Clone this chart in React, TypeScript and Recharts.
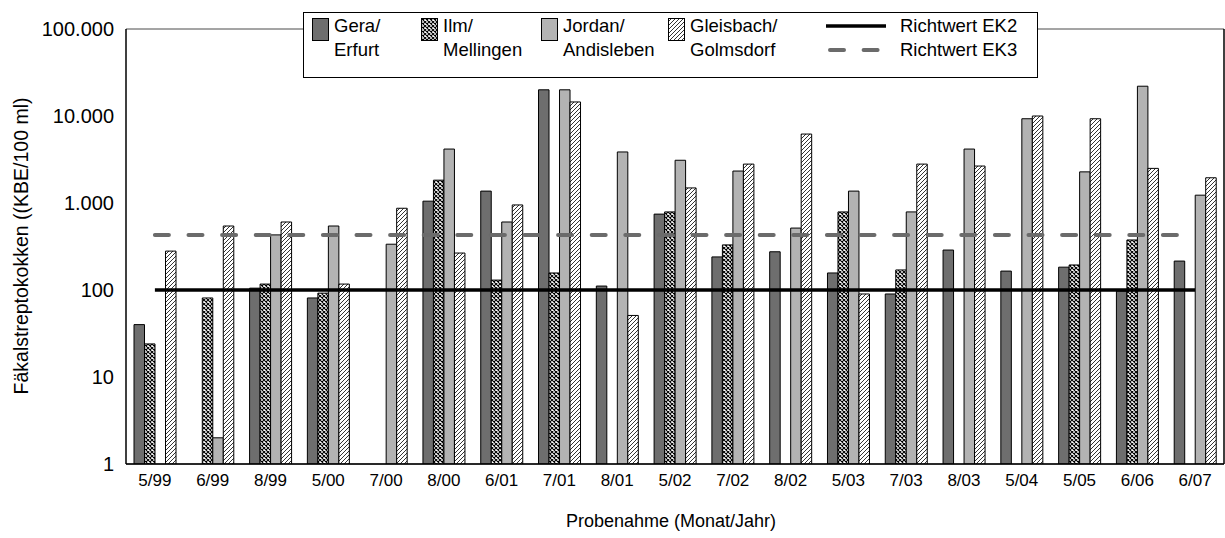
import React from "react";
import { Bar, BarChart, CartesianGrid, Label, Line, XAxis, YAxis } from "recharts";

const categories = ["5/99", "6/99", "8/99", "5/00", "7/00", "8/00", "6/01", "7/01", "8/01", "5/02", "7/02", "8/02", "5/03", "7/03", "8/03", "5/04", "5/05", "6/06", "6/07"];
const gera = [40, null, 105, 81, null, 1050, 1370, 20000, 111, 745, 240, 275, 157, 90, 288, 165, 183, 97, 215];
const ilm = [24, 81, 117, 92, null, 1830, 130, 157, null, 790, 330, null, 790, 170, null, null, 194, 376, null];
const jordan = [null, 2, 430, 544, 336, 4170, 605, 20000, 3860, 3100, 2330, 515, 1370, 790, 4170, 9300, 2280, 22000, 1230];
const gleisbach = [280, 544, 605, 117, 870, 266, 950, 14500, 51, 1490, 2800, 6200, 90, 2800, 2660, 10000, 9300, 2500, 1950];
const richtwertEK2 = 100;
const richtwertEK3 = 430;
const yTicks = [1, 10, 100, 1000, 10000, 100000];

const data = categories.map((c, i) => ({
  name: c,
  gera: gera[i],
  ilm: ilm[i],
  jordan: jordan[i],
  gleisbach: gleisbach[i],
  ek2: richtwertEK2,
  ek3: richtwertEK3,
}));

const FONT = '"Liberation Sans", Arial, sans-serif';
const DARK = "#6e6e6e";
const LIGHT = "#b3b3b3";

// german thousands separator
function fmt(v: number) {
  return String(v).replace(/\B(?=(\d{3})+(?!\d))/g, ".");
}

function Patterns() {
  return (
    <svg width={0} height={0} style={{ position: "absolute" }}>
      <defs>
        <pattern id="pCross" width={4} height={4} patternUnits="userSpaceOnUse">
          <rect width={4} height={4} fill="#fff" />
          <path d="M0,0 L4,4 M4,0 L0,4" stroke="#000" strokeWidth={1.1} />
        </pattern>
        <pattern id="pHatch" width={4} height={4} patternUnits="userSpaceOnUse">
          <rect width={4} height={4} fill="#fff" />
          <path d="M-1,1 l2,-2 M0,4 l4,-4 M3,5 l2,-2" stroke="#000" strokeWidth={0.8} />
        </pattern>
      </defs>
    </svg>
  );
}

const legendText: React.CSSProperties = { position: "absolute", fontSize: 18.5, lineHeight: "24px", whiteSpace: "nowrap" };

function LegendBox() {
  const items = [
    { fill: DARK, l1: "Gera/", l2: "Erfurt", x: 8 },
    { fill: "url(#pCross)", l1: "Ilm/", l2: "Mellingen", x: 117 },
    { fill: LIGHT, l1: "Jordan/", l2: "Andisleben", x: 237 },
    { fill: "url(#pHatch)", l1: "Gleisbach/", l2: "Golmsdorf", x: 364 },
  ];
  return (
    <div
      style={{
        position: "absolute",
        left: 303,
        top: 12,
        width: 733,
        height: 64,
        border: "1px solid #000",
        background: "#fff",
        fontFamily: FONT,
      }}
    >
      {items.map((it) => (
        <React.Fragment key={it.l1}>
          <svg width={18} height={24} style={{ position: "absolute", left: it.x, top: 5 }}>
            <rect x={0.5} y={0.5} width={16} height={22} fill={it.fill} stroke="#000" strokeWidth={1} />
          </svg>
          <div style={{ ...legendText, left: it.x + 22, top: 1 }}>{it.l1}</div>
          <div style={{ ...legendText, left: it.x + 22, top: 25 }}>{it.l2}</div>
        </React.Fragment>
      ))}
      <svg width={70} height={60} style={{ position: "absolute", left: 520, top: 0 }}>
        <line x1={2} x2={62} y1={13} y2={13} stroke="#000" strokeWidth={3.5} />
        <line x1={6} x2={62} y1={37} y2={37} stroke="#6b6b6b" strokeWidth={4} strokeDasharray="14 19.6" strokeLinecap="round" />
      </svg>
      <div style={{ ...legendText, left: 596, top: 1 }}>Richtwert EK2</div>
      <div style={{ ...legendText, left: 596, top: 25 }}>Richtwert EK3</div>
    </div>
  );
}

export default function App() {
  return (
    <div style={{ position: "absolute", left: 0, top: 0, width: 1225, height: 538, fontFamily: FONT, background: "#fff" }}>
      <Patterns />
      <BarChart
        width={1225}
        height={538}
        data={data}
        margin={{ top: 29, right: 0, bottom: 0, left: 0 }}
        barGap={0}
        barSize={10.5}
      >
        <CartesianGrid vertical={false} stroke="#4a4a4a" strokeWidth={1} />
        <XAxis
          dataKey="name"
          height={74}
          tickLine={false}
          tickSize={0}
          tickMargin={10}
          axisLine={{ stroke: "#000", strokeWidth: 1.5 }}
          tick={{ fill: "#000", fontSize: 17, fontFamily: FONT }}
          interval={0}
        >
          <Label
            content={() => (
              <text x={671} y={527} textAnchor="middle" fontSize={18} fontFamily={FONT} fill="#000">
                Probenahme (Monat/Jahr)
              </text>
            )}
          />
        </XAxis>
        <YAxis
          yAxisId="l"
          type="number"
          scale="log"
          domain={[1, 100000]}
          ticks={yTicks}
          allowDataOverflow
          width={126}
          tickLine={false}
          tickSize={0}
          tickMargin={12}
          tickFormatter={fmt}
          axisLine={{ stroke: "#000", strokeWidth: 1.5 }}
          tick={{ fill: "#000", fontSize: 20, fontFamily: FONT }}
        >
          <Label
            content={() => (
              <text
                x={21}
                y={246}
                transform="rotate(-90 21 246)"
                textAnchor="middle"
                dominantBaseline="central"
                fontSize={19.5}
                fontFamily={FONT}
                fill="#000"
              >
                Fäkalstreptokokken ((KBE/100 ml)
              </text>
            )}
          />
        </YAxis>
        <YAxis yAxisId="r" orientation="right" width={1} tick={false} tickLine={false} axisLine={{ stroke: "#000", strokeWidth: 1.5 }} />
        <Bar yAxisId="l" dataKey="gera" fill={DARK} stroke="#000" strokeWidth={1} isAnimationActive={false} />
        <Bar yAxisId="l" dataKey="ilm" fill="url(#pCross)" stroke="#000" strokeWidth={1} isAnimationActive={false} />
        <Bar yAxisId="l" dataKey="jordan" fill={LIGHT} stroke="#000" strokeWidth={1} isAnimationActive={false} />
        <Bar yAxisId="l" dataKey="gleisbach" fill="url(#pHatch)" stroke="#000" strokeWidth={1} isAnimationActive={false} />
        <Line yAxisId="l" type="linear" dataKey="ek2" stroke="#000" strokeWidth={3.5} dot={false} activeDot={false} isAnimationActive={false} />
        <Line
          yAxisId="l"
          type="linear"
          dataKey="ek3"
          stroke="#6b6b6b"
          strokeWidth={4}
          strokeDasharray="14 19.6"
          strokeLinecap="round"
          dot={false}
          activeDot={false}
          isAnimationActive={false}
        />
      </BarChart>
      <LegendBox />
    </div>
  );
}
